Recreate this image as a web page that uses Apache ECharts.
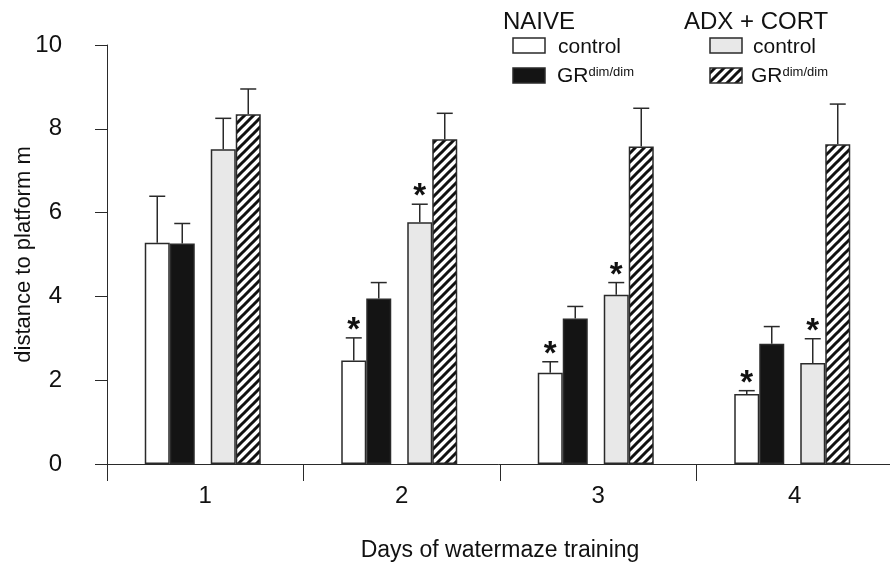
<!DOCTYPE html>
<html>
<head>
<meta charset="utf-8">
<script src="https://cdn.jsdelivr.net/npm/echarts@6/dist/echarts.min.js"></script>
<style>html,body{margin:0;padding:0;background:#fff;}#c{width:890px;height:566px;}</style>
</head>
<body>
<div id="c"></div>
<script>
// ---- data ----
var days = ['1', '2', '3', '4'];
var naiveControl    = [5.28, 2.47, 2.18, 1.67];
var naiveControlSEM = [1.11, 0.54, 0.26, 0.08];
var naiveGR         = [5.26, 3.95, 3.47, 2.87];
var naiveGRSEM      = [0.48, 0.38, 0.29, 0.41];
var adxControl      = [7.51, 5.77, 4.04, 2.41];
var adxControlSEM   = [0.74, 0.43, 0.29, 0.58];
var adxGR           = [8.35, 7.75, 7.58, 7.63];
var adxGRSEM        = [0.60, 0.62, 0.91, 0.96];
// significance stars: [group index (0..3), day index]
var stars = [[0, 1], [2, 1], [0, 2], [2, 2], [0, 3], [2, 3]];
var yTicks = [0, 2, 4, 6, 8, 10];

// ---- hatch pattern ----
function makeHatch() {
  var s = 9;
  var cv = document.createElement('canvas');
  cv.width = s; cv.height = s;
  var g = cv.getContext('2d');
  g.fillStyle = '#fff'; g.fillRect(0, 0, s, s);
  g.strokeStyle = '#111'; g.lineWidth = 3; g.lineCap = 'square';
  g.beginPath();
  g.moveTo(0, s); g.lineTo(s, 0);
  g.moveTo(-s / 2, s / 2); g.lineTo(s / 2, -s / 2);
  g.moveTo(s / 2, s * 1.5); g.lineTo(s * 1.5, s / 2);
  g.stroke();
  return cv;
}
var hatch = { image: makeHatch(), repeat: 'repeat' };

var FONT = 'Liberation Sans, Arial, sans-serif';
var EDGE = '#2a2a2a';
var groups = [
  { vals: naiveControl, sem: naiveControlSEM, fill: '#ffffff' },
  { vals: naiveGR, sem: naiveGRSEM, fill: '#141414' },
  { vals: adxControl, sem: adxControlSEM, fill: '#e8e8e8' },
  { vals: adxGR, sem: adxGRSEM, fill: hatch }
];
var BW = 25, GAP = 16, TAIL = 5;
var shift = -TAIL / 2;
var offsets = [-(GAP / 2 + BW * 1.5) + shift, -(GAP / 2 + BW / 2) + shift, GAP / 2 + BW / 2 + shift, GAP / 2 + BW * 1.5 + shift];

function emptyBar(w) {
  return { type: 'bar', data: days.map(function () { return null; }), barWidth: w, barGap: '0%', silent: true };
}
var series = [];
groups.forEach(function (gr, i) {
  series.push({
    type: 'bar', data: gr.vals, barWidth: BW, barGap: '0%',
    itemStyle: { color: gr.fill, borderColor: EDGE, borderWidth: 1.5 },
    silent: true, z: 2
  });
  if (i === 1) series.push(emptyBar(GAP));
});
series.push(emptyBar(TAIL));

var errData = [];
groups.forEach(function (gr, gi) {
  gr.vals.forEach(function (v, di) { errData.push([di, v, v + gr.sem[di], gi]); });
});
series.push({
  type: 'custom', z: 3, silent: true,
  data: errData,
  renderItem: function (params, api) {
    var di = api.value(0), v = api.value(1), top = api.value(2), gi = api.value(3);
    var p0 = api.coord([di, v]), p1 = api.coord([di, top]);
    var x = p0[0] + offsets[gi];
    var cap = 8;
    return {
      type: 'group', children: [
        { type: 'line', shape: { x1: x, y1: p0[1], x2: x, y2: p1[1] }, style: { stroke: EDGE, lineWidth: 1.5 } },
        { type: 'line', shape: { x1: x - cap, y1: p1[1], x2: x + cap, y2: p1[1] }, style: { stroke: EDGE, lineWidth: 1.5 } }
      ]
    };
  }
});

var starData = stars.map(function (s) {
  var gr = groups[s[0]];
  return [s[1], gr.vals[s[1]] + gr.sem[s[1]], s[0]];
});
series.push({
  type: 'custom', z: 4, silent: true,
  data: starData,
  renderItem: function (params, api) {
    var di = api.value(0), top = api.value(1), gi = api.value(2);
    var p = api.coord([di, top]);
    return {
      type: 'text',
      style: { text: '*', x: p[0] + offsets[gi], y: p[1] - 7, fontSize: 33, fontWeight: 'bold', fontFamily: FONT, fill: '#111', align: 'center', verticalAlign: 'middle' }
    };
  }
});

// ---- legend (drawn) ----
function box(x, y, fill) {
  return { type: 'rect', shape: { x: x, y: y, width: 32, height: 15 }, style: { fill: fill, stroke: EDGE, lineWidth: 1.5 } };
}
function txt(x, y, t, size) {
  return { type: 'text', x: x, y: y, style: { text: t, fontSize: size, fontFamily: FONT, fill: '#111', verticalAlign: 'middle' } };
}
function grLabel(x, y) {
  return { type: 'text', x: x, y: y, style: { text: '{a|GR}{b|dim/dim}', fontFamily: FONT, fill: '#111', verticalAlign: 'middle',
    rich: { a: { fontSize: 21, fontFamily: FONT, fill: '#111', verticalAlign: 'bottom' }, b: { fontSize: 13, fontFamily: FONT, fill: '#111', verticalAlign: 'top', padding: [0, 0, 6, 0] } } } };
}
var legend = [
  txt(503, 22, 'NAIVE', 24),
  txt(684, 22, 'ADX + CORT', 24),
  box(513, 38, '#ffffff'), txt(558, 47, 'control', 21),
  box(513, 68, '#141414'), grLabel(557, 76),
  box(710, 38, '#e8e8e8'), txt(753, 47, 'control', 21),
  box(710, 68, hatch), grLabel(751, 76)
];

var chart = echarts.init(document.getElementById('c'), null, { renderer: 'canvas' });
chart.setOption({
  backgroundColor: '#fff',
  animation: false,
  grid: { left: 107, top: 45, width: 786, height: 419, containLabel: false, outerBoundsMode: 'none' },
  xAxis: {
    type: 'category', data: days,
    axisLine: { lineStyle: { color: EDGE, width: 1 } },
    axisTick: { show: true, length: 17, lineStyle: { color: EDGE } },
    axisLabel: { fontSize: 24, fontFamily: FONT, color: '#111', margin: 20 },
    name: 'Days of watermaze training', nameLocation: 'middle', nameGap: 75, nameMoveOverlap: false,
    nameTextStyle: { fontSize: 23, fontFamily: FONT, color: '#111' }
  },
  yAxis: {
    type: 'value', min: 0, max: 10, interval: 2,
    axisLine: { show: true, lineStyle: { color: EDGE, width: 1 } },
    axisTick: { show: true, length: 12, lineStyle: { color: EDGE } },
    axisLabel: { fontSize: 24, fontFamily: FONT, color: '#111', margin: 45,
      formatter: function (v) { return yTicks.indexOf(v) >= 0 ? String(v) : ''; } },
    splitLine: { show: false },
    name: 'distance to platform m', nameLocation: 'middle', nameGap: 72, nameRotate: 90, nameMoveOverlap: false,
    nameTextStyle: { fontSize: 22, fontFamily: FONT, color: '#111' }
  },
  graphic: legend,
  series: series
});
</script>
</body>
</html>
